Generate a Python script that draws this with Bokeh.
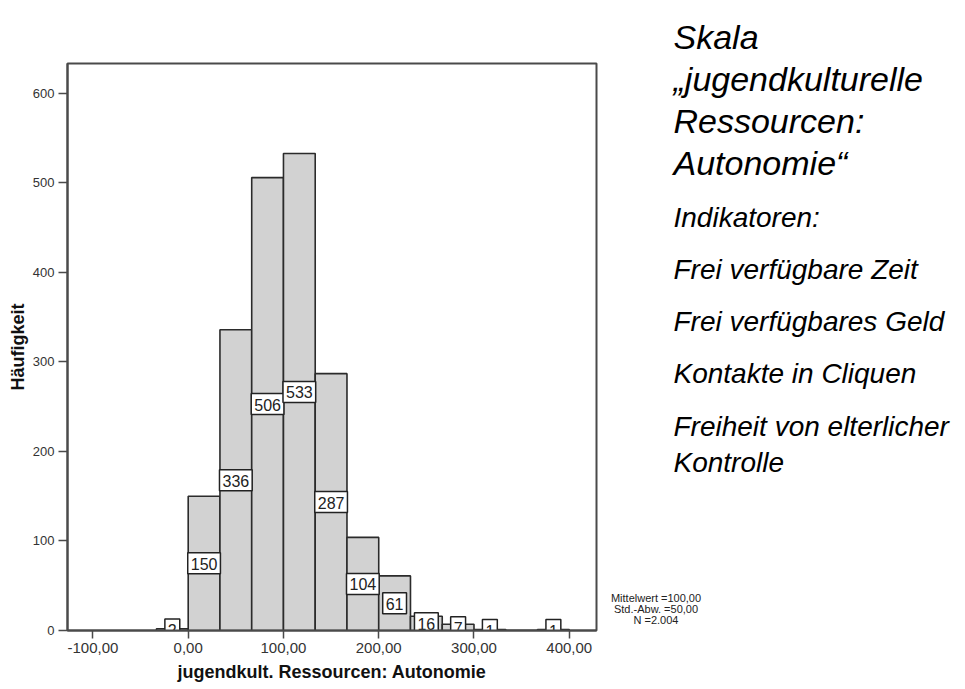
from bokeh.plotting import figure
from bokeh.models import Range1d, FixedTicker, ColumnDataSource
from bokeh.layouts import row
from bokeh.core.properties import value
from bokeh.embed import file_html
from bokeh.resources import INLINE

# ---- data ----
bin_left = [-33.33, 0.0, 33.33, 66.67, 100.0, 133.33, 166.67, 200.0, 233.33, 266.67, 300.0, 333.33, 366.67]
bin_right = [0.0, 33.33, 66.67, 100.0, 133.33, 166.67, 200.0, 233.33, 266.67, 300.0, 333.33, 366.67, 400.0]
counts = [2, 150, 336, 506, 533, 287, 104, 61, 16, 7, 1, 0, 1]

x_ticks = [-100, 0, 100, 200, 300, 400]
x_tick_labels = ["-100,00", "0,00", "100,00", "200,00", "300,00", "400,00"]
y_ticks = [0, 100, 200, 300, 400, 500, 600]
y_tick_labels = ["0", "100", "200", "300", "400", "500", "600"]

x_title = "jugendkult. Ressourcen: Autonomie"
y_title = "Häufigkeit"
stats_lines = ["Mittelwert =100,00", "Std.-Abw. =50,00", "N =2.004"]
title_lines = ["Skala", "„jugendkulturelle", "Ressourcen:", "Autonomie“"]
indicator_lines = ["Indikatoren:", "Frei verfügbare Zeit", "Frei verfügbares Geld",
                   "Kontakte in Cliquen", "Freiheit von elterlicher", "Kontrolle"]

FONT = "Liberation Sans"

# ---- layout geometry (pixels) ----
H = 687
WP = 600
BL, BT, FW, FH = 67, 63, 529, 567
WQ = 361

p = figure(output_backend="svg", toolbar_location=None, title=None,
           x_range=Range1d(-126.7, 428.6), y_range=Range1d(0, 633.5),
           width=WP, height=H,
           min_border_left=BL, min_border_right=WP - BL - FW,
           min_border_top=BT, min_border_bottom=H - BT - FH, align="start")
p.frame_align = False
p.xgrid.visible = False
p.ygrid.visible = False
p.background_fill_color = "white"
p.border_fill_color = "white"
p.outline_line_color = "#4a4a4a"
p.outline_line_width = 2

bars = ColumnDataSource(dict(left=bin_left, right=bin_right, top=counts, bottom=[0] * len(counts)))
p.quad(left="left", right="right", top="top", bottom="bottom", source=bars,
       fill_color="#d2d2d2", line_color="#2b2b2b", line_width=1.6)

lab_x = [(l + r) / 2 for l, r, c in zip(bin_left, bin_right, counts) if c > 0]
lab_y = [c / 2 for c in counts if c > 0]
lab_t = [str(c) for c in counts if c > 0]
labels = ColumnDataSource(dict(x=lab_x, y=lab_y, t=lab_t))
p.text(x="x", y="y", text="t", source=labels,
       text_font=value(FONT), text_font_size="16px", text_color="#222222",
       text_align="center", text_baseline="middle",
       background_fill_color="white", border_line_color="#222222", border_line_width=1.5,
       padding=dict(left=3, right=3, top=5, bottom=4))

for ax in (p.xaxis[0], p.yaxis[0]):
    ax.axis_line_color = "#4a4a4a"
    ax.axis_line_width = 2
    ax.major_tick_line_color = "#4a4a4a"
    ax.major_tick_line_width = 1.5
    ax.major_tick_in = 0
    ax.minor_tick_line_color = None
    ax.major_label_text_font = FONT
    ax.major_label_text_color = "#333333"
    ax.axis_label_text_font = FONT
    ax.axis_label_text_font_size = "18px"
    ax.axis_label_text_font_style = "bold"
    ax.axis_label_text_color = "#111111"

p.xaxis.ticker = FixedTicker(ticks=x_ticks)
p.xaxis.major_label_overrides = {t: s for t, s in zip(x_ticks, x_tick_labels)}
p.xaxis.major_label_text_font_size = "15px"
p.xaxis.major_tick_out = 8
p.xaxis.major_label_standoff = 4
p.xaxis.axis_label = x_title
p.xaxis.axis_label_standoff = 6

p.yaxis.ticker = FixedTicker(ticks=y_ticks)
p.yaxis.major_label_overrides = {t: s for t, s in zip(y_ticks, y_tick_labels)}
p.yaxis.major_label_text_font_size = "13px"
p.yaxis.major_tick_out = 9
p.yaxis.major_label_standoff = 4
p.yaxis.major_label_orientation = "horizontal"
p.yaxis.axis_label = y_title
p.yaxis.axis_label_standoff = 2

# ---- side panel (pixel coordinates, y downward) ----
q = figure(output_backend="svg", toolbar_location=None, title=None,
           x_range=Range1d(0, WQ), y_range=Range1d(H, 0),
           width=WQ, height=H,
           min_border_left=0, min_border_right=0, min_border_top=0, min_border_bottom=0,
           x_axis_location=None, y_axis_location=None, align="start")
q.frame_align = False
q.xgrid.visible = False
q.ygrid.visible = False
q.outline_line_color = None
q.background_fill_color = "white"
q.border_fill_color = "white"

q.text(x=[55.5] * len(stats_lines), y=[597, 608, 619], text=stats_lines,
       text_font=value(FONT), text_font_size="11px", text_color="#222222",
       text_align="center", text_baseline="alphabetic")

q.text(x=[73] * len(title_lines), y=[36, 78, 120, 162], text=title_lines,
       text_font=value(FONT), text_font_size="34px", text_font_style="italic",
       text_color="black", text_align="left", text_baseline="alphabetic")

q.text(x=[73] * len(indicator_lines), y=[217, 269, 321, 373, 426, 462], text=indicator_lines,
       text_font=value(FONT), text_font_size="28px", text_font_style="italic",
       text_color="black", text_align="left", text_baseline="alphabetic")

layout = row(p, q)
open("out.html", "w").write(file_html(layout, INLINE))
